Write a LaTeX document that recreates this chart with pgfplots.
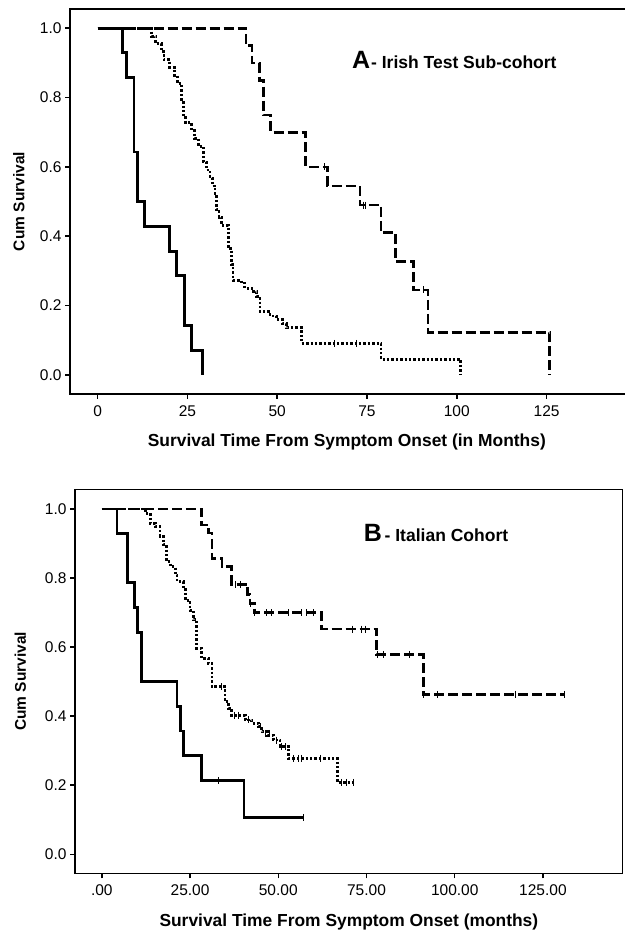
\documentclass[border=0pt]{standalone}
\usepackage{fontspec}
\setmainfont{Liberation Sans}
\usepackage{pgfplots}
\pgfplotsset{compat=1.18}

% shared look of both Kaplan-Meier panels
\pgfplotsset{
  km/.style={
    scale only axis, anchor=south west,
    axis line style={line width=1.5pt},
    major tick style={line width=1.5pt, black},
    major tick length=5pt, tick align=outside,
    xtick pos=bottom, ytick pos=left,
    xtick={0,25,50,75,100,125},
    ytick={0,0.2,0.4,0.6,0.8,1.0},
    yticklabels={0.0,0.2,0.4,0.6,0.8,1.0},
    /pgf/number format/assume math mode=true,
    ticklabel style={font=\fontsize{15.5}{18}\selectfont},
    xticklabel style={yshift=-3pt},
    xlabel style={font=\fontsize{17.4}{20}\selectfont\bfseries, anchor=center},
    ylabel style={font=\fontsize{15.5}{18}\selectfont\bfseries, anchor=center},
    ylabel={Cum Survival},
  },
  g1/.style={black, line width=2.8pt, const plot},
  g2/.style={black, line width=2.8pt, const plot, dash pattern=on 2.4pt off 2pt},
  g3/.style={black, line width=2.6pt, const plot, dash pattern=on 10pt off 4pt},
  cens/.style={black, only marks, mark=|, mark size=3.5pt, mark options={line width=1pt, solid}},
}

\begin{document}
\begin{tikzpicture}
\path[use as bounding box] (0pt,0pt) rectangle (624pt,931pt);

% ---------- A: Irish test sub-cohort ----------
\begin{axis}[km, at={(70pt,537pt)}, width=557pt, height=385pt,
  xmin=-7.7, xmax=147.4, ymin=-0.055, ymax=1.0555,
  xticklabels={0,25,50,75,100,125},
  xlabel={Survival Time From Symptom Onset (in Months)},
  xlabel style={at={(axis description cs:0.497,-0.125)}},
  ylabel style={at={(axis description cs:-0.092,0.5)}}]
\addplot[g3] coordinates {
  (0,1) (41.3,0.95) (43,0.90) (45,0.85) (46.1,0.75) (48.2,0.70) (57.9,0.60)
  (64,0.545) (73,0.49) (78.9,0.41) (83,0.327) (88,0.245) (92,0.123) (125.9,0)
};
\addplot[g2] coordinates {
  (0,1) (15,0.977) (16.2,0.955) (17.8,0.932) (18.5,0.909) (20.1,0.886)
  (21.5,0.864) (22.3,0.841) (23.4,0.795) (23.8,0.75) (24.5,0.727) (26.2,0.705)
  (27,0.682) (28,0.66) (29.4,0.614) (30.3,0.591) (31.3,0.568) (32,0.545)
  (32.7,0.523) (33.1,0.477) (33.8,0.455) (34.5,0.432) (36.4,0.364) (37.3,0.318)
  (37.7,0.273) (40,0.265) (41,0.25) (43,0.24) (44.3,0.227) (45.2,0.182)
  (48,0.17) (49.8,0.159) (51.5,0.148) (52.6,0.136) (56.8,0.091) (78.9,0.045)
  (101.1,0)
};
\addplot[g1] coordinates {
  (0,1) (7,0.929) (8.1,0.857) (10.1,0.643) (11,0.5) (13.1,0.429) (20.1,0.357)
  (22,0.286) (24.1,0.143) (26.1,0.071) (29.1,0)
};
\addplot[cens] coordinates {(63.3,0.60) (74,0.49) (74.7,0.49) (90.8,0.245)};
\addplot[cens] coordinates {(65.9,0.091) (72.1,0.091)};
\node[anchor=base west, inner sep=0] at (axis cs:70.8,0.885)
  {{\fontsize{25}{30}\selectfont\bfseries A}\hspace{1pt}{\fontsize{17.5}{21}\selectfont\bfseries - Irish Test Sub-cohort}};
\end{axis}

% ---------- B: Italian cohort ----------
\begin{axis}[km, at={(75pt,57.7pt)}, width=547.7pt, height=384pt,
  xmin=-7.6, xmax=147.6, ymin=-0.055, ymax=1.057,
  xticklabels={.00,25.00,50.00,75.00,100.00,125.00},
  xlabel={Survival Time From Symptom Onset (months)},
  xlabel style={at={(axis description cs:0.5,-0.126)}},
  ylabel style={at={(axis description cs:-0.1,0.5)}}]
\addplot[g3] coordinates {
  (0,1) (28.3,0.954) (30.2,0.93) (31.2,0.857) (34,0.833) (36.8,0.782)
  (41.3,0.753) (42,0.727) (43.2,0.70) (62.2,0.652) (77.9,0.579) (91.2,0.463)
  (131,0.463)
};
\addplot[g2] coordinates {
  (0,1) (12.3,0.988) (13.7,0.958) (15.1,0.949) (16.5,0.92) (17.5,0.896)
  (18.4,0.847) (19.4,0.833) (20.8,0.809) (21.3,0.789) (23.1,0.77) (23.6,0.736)
  (25,0.707) (26,0.679) (26.9,0.597) (28.3,0.568) (30.2,0.553) (31.2,0.485)
  (34.9,0.442) (36,0.423) (36.8,0.403) (40.6,0.389) (42.5,0.379) (44.4,0.37)
  (45.4,0.355) (47,0.345) (48.6,0.331) (50.5,0.312) (52.9,0.278) (66.8,0.208)
  (71.3,0.208)
};
\addplot[g1] coordinates {
  (0,1) (4.3,0.929) (7.3,0.786) (9.2,0.714) (10.1,0.643) (11.2,0.5)
  (21.3,0.429) (22.2,0.357) (23.1,0.286) (28.2,0.214) (40.3,0.107) (57.1,0.107)
};
\addplot[cens] coordinates {
  (37.8,0.782) (39.2,0.782) (42,0.727) (43.4,0.70) (46.8,0.70) (48.2,0.70)
  (52.9,0.70) (56.7,0.70) (58.1,0.70) (60,0.70) (70.9,0.652) (73.7,0.652)
  (74.6,0.652) (78.2,0.579) (79.8,0.579) (87.2,0.579) (91.2,0.463) (95,0.463)
  (117.2,0.463) (131,0.463)
};
\addplot[cens] coordinates {
  (34,0.485) (37.7,0.403) (38.7,0.403) (41.6,0.389) (44.9,0.37) (46.5,0.35)
  (47.5,0.35) (49.5,0.331) (51,0.312) (52,0.312) (54.3,0.278) (55.7,0.278)
  (56.7,0.278) (61.9,0.278) (68,0.208) (69.4,0.208) (71.3,0.208)
};
\addplot[cens] coordinates {(33.1,0.214) (57.1,0.107)};
\node[anchor=base west, inner sep=0] at (axis cs:74.2,0.907)
  {{\fontsize{25}{30}\selectfont\bfseries B} {\fontsize{17.5}{21}\selectfont\bfseries - Italian Cohort}};
\end{axis}
\end{tikzpicture}
\end{document}
